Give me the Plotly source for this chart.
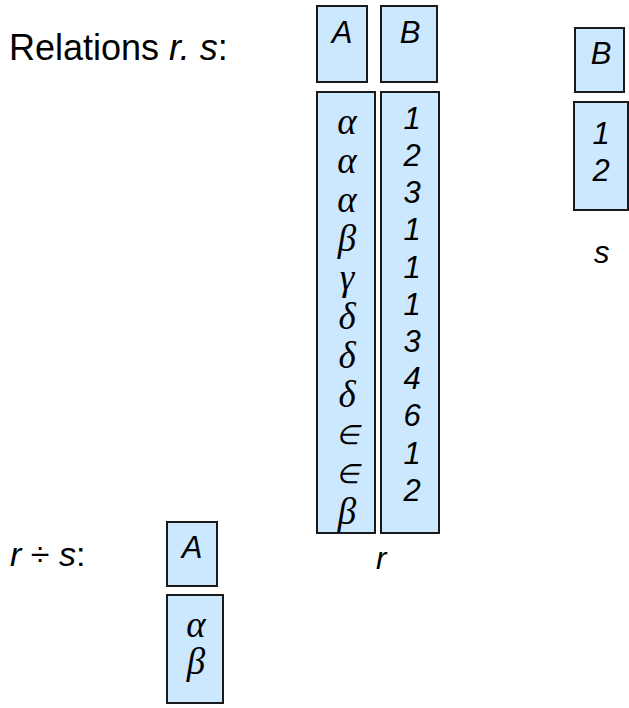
import plotly.graph_objects as go

# ---- data ----
r_A = ["α", "α", "α", "β", "γ", "δ", "δ", "δ", "∈", "∈", "β"]
r_B = ["1", "2", "3", "1", "1", "1", "3", "4", "6", "1", "2"]
s_B = ["1", "2"]
div_A = ["α", "β"]
r_headers = ["A", "B"]
s_headers = ["B"]
div_headers = ["A"]

# ---- layout config (pixel coords, y downwards) ----
FILL = "#CCE8FF"
LINE = "#1a1a1a"
SANS = "Liberation Sans, Arial, sans-serif"
SERIF = "Liberation Serif, Times New Roman, serif"

fig = go.Figure()
shapes = []


def box(x0, y0, x1, y1):
    shapes.append(dict(type="rect", xref="x", yref="y", x0=x0, y0=y0, x1=x1, y1=y1,
                       fillcolor=FILL, line=dict(color=LINE, width=2), layer="below"))


def column(values, x, y0, dy, family, size):
    sizes = [size * 0.72 if v == "∈" else size for v in values]
    fig.add_trace(go.Scatter(
        x=[x] * len(values), y=[y0 + i * dy for i in range(len(values))],
        text=values, mode="text", textposition="middle center",
        textfont=dict(family=family, size=sizes, color="black", style="italic"),
        hoverinfo="skip", showlegend=False))


# relation r
box(317, 6, 367, 82)
box(381, 6, 437, 82)
box(317, 92, 375, 533)
box(381, 92, 439, 533)
column(r_headers[:1], 342, 35, 0, SANS, 31)
column(r_headers[1:], 410, 35, 0, SANS, 31)
column(r_A, 347, 125, 39, SERIF, 37)
column(r_B, 412, 121, 37.2, SANS, 31)

# relation s
box(575, 28, 624, 92)
box(574, 102, 628, 210)
column(s_headers, 601, 56, 0, SANS, 31)
column(s_B, 601, 136, 37.5, SANS, 31)

# r ÷ s
box(167, 522, 217, 586)
box(167, 595, 223, 703)
column(div_headers, 192, 550, 0, SANS, 31)
column(div_A, 196, 628, 37, SERIF, 37)

annotations = [
    dict(x=7, y=47, xref="x", yref="y", xanchor="left", yanchor="middle", showarrow=False,
         text="Relations <i>r. s</i>:", font=dict(family=SANS, size=36, color="black")),
    dict(x=8, y=554, xref="x", yref="y", xanchor="left", yanchor="middle", showarrow=False,
         text="<i>r</i> ÷ <i>s</i>:", font=dict(family=SANS, size=34, color="black")),
    dict(x=382, y=558, xref="x", yref="y", xanchor="center", yanchor="middle", showarrow=False,
         text="<i>r</i>", font=dict(family=SANS, size=31, color="black")),
    dict(x=602, y=252, xref="x", yref="y", xanchor="center", yanchor="middle", showarrow=False,
         text="<i>s</i>", font=dict(family=SANS, size=31, color="black")),
]

fig.update_layout(
    width=629, height=708,
    margin=dict(l=0, r=0, t=0, b=0),
    paper_bgcolor="white", plot_bgcolor="white",
    xaxis=dict(range=[0, 629], visible=False, fixedrange=True),
    yaxis=dict(range=[708, 0], visible=False, fixedrange=True),
    shapes=shapes, annotations=annotations,
)

fig.write_html("out.html", config={"displayModeBar": False, "staticPlot": True},
               post_script="document.body.style.margin='0';document.body.style.overflow='hidden';")
